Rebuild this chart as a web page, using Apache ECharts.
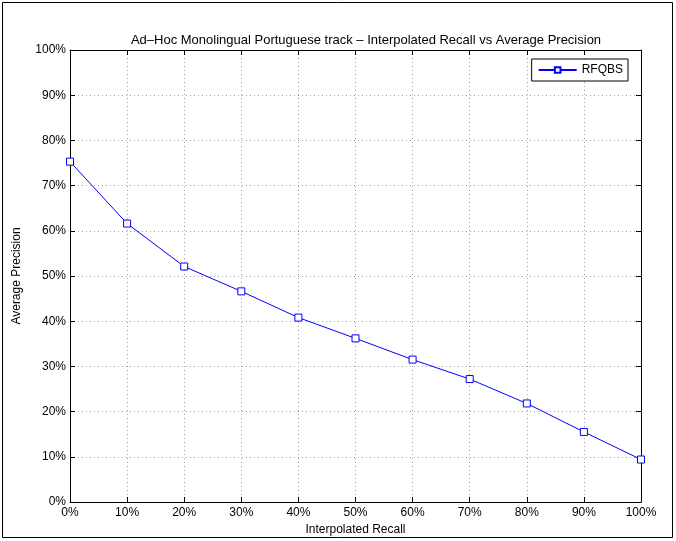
<!DOCTYPE html>
<html>
<head>
    <title></title>
    <meta charset="UTF-8">
    <script type="text/javascript" src="https://cdn.jsdelivr.net/npm/echarts@6/dist/echarts.min.js"></script>
    <style type="text/css">
        body { margin: 0; background: #fff; }
        #recall_chart { width: 676px; height: 541px; }
    </style>
</head>
<body>
<div id="recall_chart"></div>

<script type="text/javascript">
    // interpolated recall levels (%) and the average precision read at each
    var recall = [0, 10, 20, 30, 40, 50, 60, 70, 80, 90, 100];
    var precision = [75.3, 61.6, 52.1, 46.6, 40.8, 36.2, 31.5, 27.2, 21.8, 15.5, 9.4];
    var seriesName = 'RFQBS';

    var points = [];
    for (var i = 0; i < recall.length; i++) {
        points.push([recall[i], precision[i]]);
    }

    var font = 'Liberation Sans, Arial, Helvetica, sans-serif';
    var chart = echarts.init(document.getElementById('recall_chart'));

    // fresh objects per axis, echarts changes the ones it is given
    function gridLine() {
        return { show: true, lineStyle: { color: '#a0a0a0', type: [1, 3], width: 1 } };
    }
    function tick() {
        return { show: true, inside: true, length: 5, lineStyle: { color: '#000' } };
    }
    function axisLine() {
        return { show: true, onZero: false, lineStyle: { color: '#000', width: 1 } };
    }

    chart.setOption({
        animation: false,
        backgroundColor: '#fff',
        textStyle: { fontFamily: font },
        title: {
            text: 'Ad\u2013Hoc Monolingual Portuguese track \u2013 Interpolated Recall vs Average Precision',
            left: 361,
            textAlign: 'center',
            top: 29,
            textStyle: { fontSize: 13, fontWeight: 'normal', color: '#000', fontFamily: font }
        },
        legend: {
            data: [seriesName],
            right: 48,
            top: 59,
            itemWidth: 38,
            itemHeight: 7,
            itemGap: 4,
            padding: [5, 5, 5, 6],
            borderColor: '#000',
            borderWidth: 1,
            backgroundColor: '#fff',
            textStyle: { fontSize: 12, color: '#000', fontFamily: font }
        },
        grid: { left: 70, right: 35, top: 50, bottom: 39, containLabel: false },
        graphic: [{
            type: 'rect',
            shape: { x: 2.5, y: 2.5, width: 670, height: 535 },
            style: { fill: 'none', stroke: '#000', lineWidth: 1 },
            silent: true
        }],
        xAxis: [{
            type: 'value',
            position: 'bottom',
            min: 0, max: 100, interval: 10,
            name: 'Interpolated Recall',
            nameLocation: 'middle',
            nameGap: 19,
            nameTextStyle: { fontSize: 12, color: '#000' },
            axisLine: axisLine(),
            axisTick: tick(),
            axisLabel: { formatter: '{value}%', fontSize: 12, color: '#000', margin: 5 },
            splitLine: gridLine()
        }, {
            type: 'value',
            position: 'top',
            min: 0, max: 100, interval: 10,
            axisLine: axisLine(),
            axisTick: tick(),
            axisLabel: { show: false },
            splitLine: { show: false }
        }],
        yAxis: [{
            type: 'value',
            position: 'left',
            min: 0, max: 100, interval: 10,
            name: 'Average Precision',
            nameLocation: 'middle',
            nameGap: 47,
            nameTextStyle: { fontSize: 12, color: '#000' },
            axisLine: axisLine(),
            axisTick: tick(),
            axisLabel: { formatter: '{value}%', fontSize: 12, color: '#000', margin: 4 },
            splitLine: gridLine()
        }, {
            type: 'value',
            position: 'right',
            min: 0, max: 100, interval: 10,
            axisLine: axisLine(),
            axisTick: tick(),
            axisLabel: { show: false },
            splitLine: { show: false }
        }],
        series: [{
            name: seriesName,
            type: 'line',
            data: points,
            symbol: 'rect',
            symbolSize: 7,
            lineStyle: { color: '#0000ff', width: 1 },
            itemStyle: { color: '#ffffff', borderColor: '#0000ff', borderWidth: 1 }
        }]
    });
</script>

</body>
</html>
